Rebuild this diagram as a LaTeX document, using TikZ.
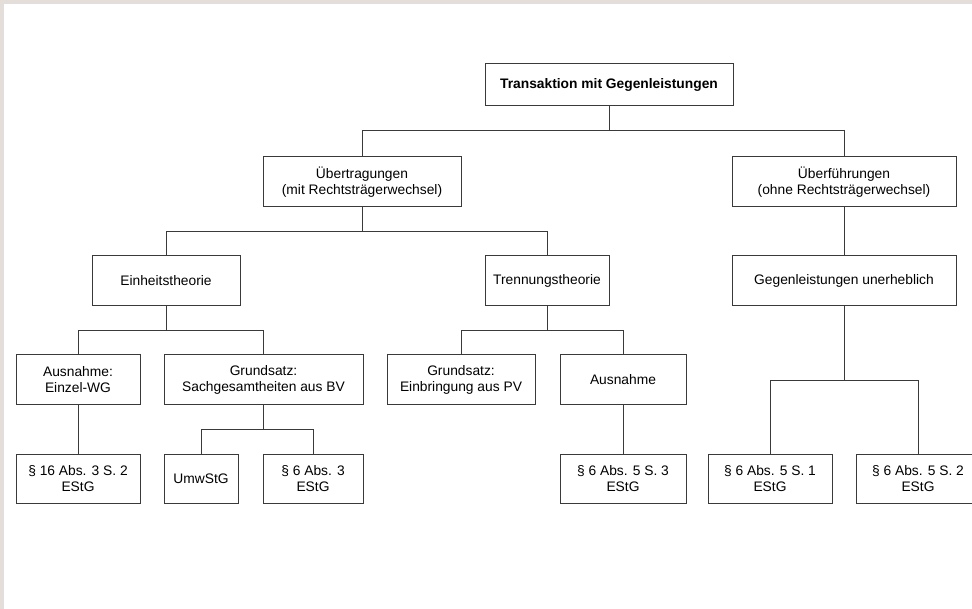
\documentclass[tikz,border=0pt]{standalone}
\usepackage{fontspec}
\setmainfont{Liberation Sans}
\definecolor{framegray}{HTML}{E3DED9}
\definecolor{linegray}{HTML}{3A3A3A}
\tikzset{
 box/.style={draw=linegray,line width=1pt,fill=white,align=center,inner sep=2pt,minimum height=50pt},
 link/.style={draw=linegray,line width=1pt}
}
\begin{document}
\begin{tikzpicture}[font=\fontsize{13.8}{16}\selectfont,x=1pt,y=-1pt]
\useasboundingbox (0,0) rectangle (972,609);
\fill[framegray] (0,0) rectangle (972,609);
\fill[white] (4,4) rectangle (972,609);
\clip (0,0) rectangle (972,609);
% Ebene 0
\node[box,minimum width=248pt,minimum height=42pt,font=\fontsize{13.8}{16}\selectfont\bfseries] (root) at (609,85) {Transaktion mit Gegenleistungen};
% Ebene 1
\node[box,minimum width=198pt] (uebertr) at (362,182) {Übertragungen\\(mit Rechtsträgerwechsel)};
\node[box,minimum width=224pt] (ueberf) at (844,182) {Überführungen\\(ohne Rechtsträgerwechsel)};
% Ebene 2
\node[box,minimum width=148pt] (einheit) at (166,281) {Einheitstheorie};
\node[box,minimum width=124pt] (trennung) at (547,281) {Trennungstheorie};
\node[box,minimum width=224pt] (gegen) at (844,281) {Gegenleistungen unerheblich};
% Ebene 3
\node[box,minimum width=124pt] (ausnEinzel) at (78,380) {Ausnahme:\\Einzel-WG};
\node[box,minimum width=199pt] (grundSach) at (263.5,380) {Grundsatz:\\Sachgesamtheiten aus BV};
\node[box,minimum width=148pt] (grundEinbr) at (461,380) {Grundsatz:\\Einbringung aus PV};
\node[box,minimum width=126pt] (ausn) at (623,380) {Ausnahme};
% Ebene 4
\node[box,minimum width=124pt,minimum height=49pt] (p16) at (78,478.5) {§ 16 Abs. 3 S. 2\\EStG};
\node[box,minimum width=74pt,minimum height=49pt] (umw) at (201,478.5) {UmwStG};
\node[box,minimum width=100pt,minimum height=49pt] (p63) at (313,478.5) {§ 6 Abs. 3\\EStG};
\node[box,minimum width=126pt,minimum height=49pt] (p653) at (623,478.5) {§ 6 Abs. 5 S. 3\\EStG};
\node[box,minimum width=124pt,minimum height=49pt] (p651) at (770,478.5) {§ 6 Abs. 5 S. 1\\EStG};
\node[box,minimum width=124pt,minimum height=49pt] (p652) at (918,478.5) {§ 6 Abs. 5 S. 2\\EStG};
% Verbindungen
\foreach \a/\b in {root/uebertr,root/ueberf,uebertr/einheit,uebertr/trennung,einheit/ausnEinzel,einheit/grundSach,trennung/grundEinbr,trennung/ausn,grundSach/umw,grundSach/p63}{
 \draw[link] (\a.south) -- ++(0,24) -| (\b.north);
}
\foreach \a/\b in {gegen/p651,gegen/p652}{\draw[link] (\a.south) -- ++(0,74) -| (\b.north);}
\foreach \a/\b in {ueberf/gegen,ausnEinzel/p16,ausn/p653}{\draw[link] (\a) -- (\b);}
\end{tikzpicture}
\end{document}
